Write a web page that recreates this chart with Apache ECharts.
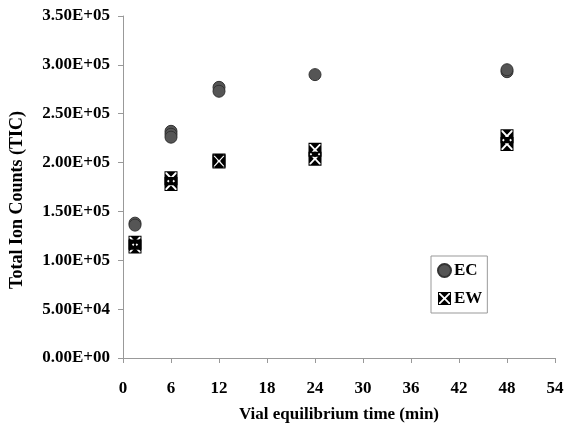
<!DOCTYPE html>
<html><head><meta charset="utf-8">
<script src="https://cdn.jsdelivr.net/npm/echarts@6/dist/echarts.min.js"></script>
<style>html,body{margin:0;padding:0;background:#fff}#c{width:564px;height:424px}</style>
</head><body><div id="c"></div>
<script>
var xTicks = [0, 6, 12, 18, 24, 30, 36, 42, 48, 54];
var ecX = [1.5, 1.5, 6, 6, 6, 12, 12, 24, 48, 48];
var ecY = [138000, 136000, 232000, 229000, 226000, 277000, 273000, 290000, 293000, 295000];
var ewX = [1.5, 1.5, 6, 6, 12, 12, 24, 24, 48, 48];
var ewY = [118000, 114000, 184000, 178000, 201000, 202000, 213000, 204000, 227000, 219000];

function pairs(xs, ys){ return xs.map(function(x,i){ return [x, ys[i]]; }); }
function fmtE(v){
  var s = Number(v).toExponential(2).toUpperCase();
  var m = s.split('E'); var e = parseInt(m[1],10);
  var sign = e < 0 ? '-' : '+'; e = Math.abs(e);
  return m[0] + 'E' + sign + (e < 10 ? '0' + e : '' + e);
}
var ewPath = 'path://M0 0L20 0L20 20L0 20Z M1.5 1.5L1.5 18.5L18.5 18.5L18.5 1.5Z ' +
  'M3.5 1.5L16.5 1.5L10 8Z M18.5 3.5L18.5 16.5L12 10Z M16.5 18.5L3.5 18.5L10 12Z M1.5 16.5L1.5 3.5L8 10Z';
var font = 'Liberation Serif';
var chart = echarts.init(document.getElementById('c'), null, {renderer:'canvas'});
chart.setOption({
  backgroundColor: '#fff',
  animation: false,
  grid: {left: 123, right: 9, top: 16, bottom: 66, containLabel: false, outerBoundsMode: 'none'},
  xAxis: {
    type: 'value', min: 0, max: 54, interval: 6,
    name: 'Vial equilibrium time (min)', nameLocation: 'middle', nameGap: 48,
    nameTextStyle: {fontFamily: font, fontWeight: 'bold', fontSize: 17, color: '#000'},
    axisLine: {lineStyle: {color: '#999', width: 1}},
    axisTick: {show: true, length: 5, lineStyle: {color: '#999'}},
    axisLabel: {margin: 22, fontFamily: font, fontWeight: 'bold', fontSize: 17, color: '#000',
      formatter: function(v){ return xTicks.indexOf(v) >= 0 ? String(v) : ''; }},
    splitLine: {show: false}
  },
  yAxis: {
    type: 'value', min: 0, max: 350000, interval: 50000,
    name: 'Total Ion Counts (TIC)', nameLocation: 'middle', nameGap: 97, nameRotate: 90,
    nameTextStyle: {fontFamily: font, fontWeight: 'bold', fontSize: 18, color: '#000', padding: [0, 26, 0, 0]},
    axisLine: {show: true, lineStyle: {color: '#999', width: 1}},
    axisTick: {show: true, length: 5, lineStyle: {color: '#999'}},
    axisLabel: {margin: 13, fontFamily: font, fontWeight: 'bold', fontSize: 17, color: '#000', formatter: fmtE},
    splitLine: {show: false}
  },
  legend: {
    orient: 'vertical', left: 431, top: 256, padding: [6, 5, 6, 6],
    borderColor: '#999', borderWidth: 1, itemGap: 11, itemWidth: 13, itemHeight: 14,
    textStyle: {fontFamily: font, fontWeight: 'bold', fontSize: 17, color: '#000', padding: [0,0,0,-2]},
    data: [{name: 'EC', icon: 'circle'}, {name: 'EW', icon: ewPath}]
  },
  series: [
    {name: 'EC', type: 'scatter', symbol: 'circle', symbolSize: 12,
     itemStyle: {color: '#555', borderColor: '#333', borderWidth: 1, opacity: 1},
     data: pairs(ecX, ecY)},
    {name: 'EW', type: 'scatter', symbol: ewPath, symbolSize: [13, 14],
     itemStyle: {color: '#000', opacity: 1},
     data: pairs(ewX, ewY)}
  ]
});
</script></body></html>
